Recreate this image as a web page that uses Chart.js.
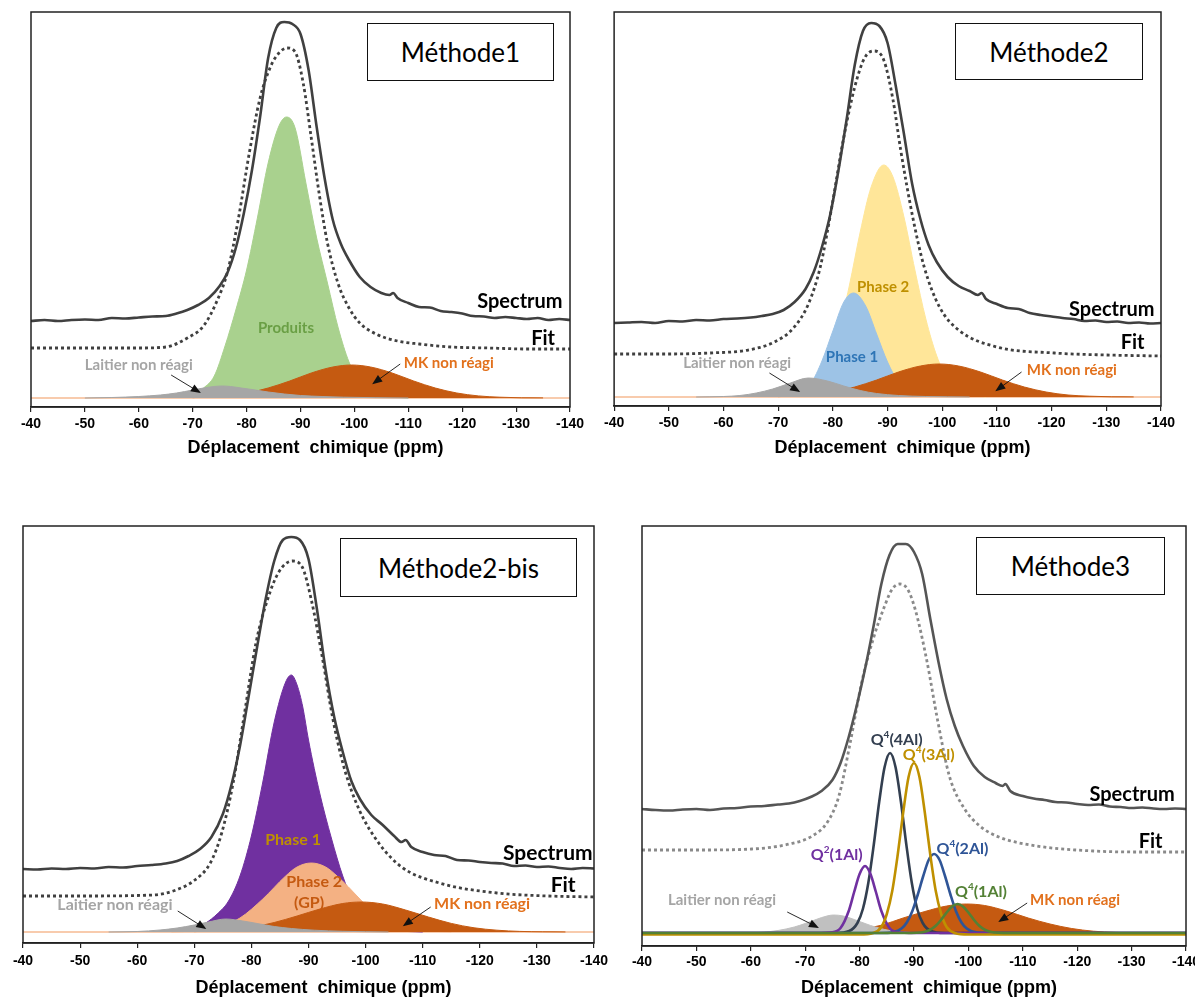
<!DOCTYPE html>
<html>
<head>
<meta charset="utf-8">
<script src="https://cdn.jsdelivr.net/npm/chart.js@4.4.1/dist/chart.umd.min.js"></script>
<style>
  html, body { margin: 0; padding: 0; background: #fff; overflow: hidden; width: 1195px; height: 999px; position: relative; }
  canvas { position: absolute; }
  .box { position: absolute; box-sizing: border-box; border: 1.5px solid #111; background: #fff;
         font: 26px Lato, "Open Sans", sans-serif; color: #000; display: flex; align-items: center; justify-content: center; }
</style>
</head>
<body>
<canvas id="c1" width="600" height="470" style="left:0;top:0"></canvas>
<canvas id="c2" width="595" height="470" style="left:600px;top:0"></canvas>
<canvas id="c3" width="615" height="499" style="left:0;top:500px"></canvas>
<canvas id="c4" width="620" height="489" style="left:600px;top:510px"></canvas>
<div class="box" style="left:367px;top:23px;width:187px;height:58px">Méthode1</div>
<div class="box" style="left:955px;top:23px;width:188px;height:57px">Méthode2</div>
<div class="box" style="left:340px;top:538px;width:237px;height:59px">Méthode2-bis</div>
<div class="box" style="left:976px;top:537px;width:189px;height:58px">Méthode3</div>
<script>
// intensities in arbitrary units, x in ppm
var xTicks = [-40, -50, -60, -70, -80, -90, -100, -110, -120, -130, -140];
var xTitle = "Déplacement  chimique (ppm)";

// ---------- Méthode1 ----------
var p1SpecPpm = [-40,-42.5,-45,-47.5,-50,-52.5,-55,-57.5,-60,-62.5,-65,-67,-69,-71,-73,-75,-76.5,-78,-79.5,-81,-82.5,-84,-85.5,-87,-88.5,-90,-91.5,-93,-94.5,-96,-97.5,-99,-101,-103,-105,-106.5,-107.2,-108,-110,-112,-114,-116,-118,-120,-122,-124,-126,-128,-130,-132,-134,-136,-138,-140];
var p1Spec    = [77,78,77,78,78.5,78,80,79.5,80.5,81.5,82,84.5,88,93,100,112,126,150,185,228,281,340,370,376,374,364,328,271,219,178,154,138,121,111,105,103,105,100,95,91,90.5,87,86,84.5,82,81.5,80,81,80,79,80,78,79,78];
var p1FitPpm  = [-40,-50,-60,-65,-69,-72,-74.5,-76.5,-78.5,-80.5,-82.5,-84.5,-86,-87.5,-89,-90.5,-92,-93.5,-95,-97,-99,-101,-104,-108,-112,-118,-125,-132,-140];
var p1Fit     = [50,50,50,51,60,72,97,127,180,245,300,332,345,350,346,315,260,203,155,114,90,75,64,57,54,51,50,49,49];
var p1ProdPpm = [-66,-70,-72,-74,-76,-78,-80,-82,-84,-86,-87.4,-89,-91,-93,-95,-97,-99,-101,-103,-106,-110];
var p1Prod    = [1,4,10,22,52,88,128,180,235,272,281,270,215,160,115,70,36,16,7,2,0];
var p1LaitPpm = [-50,-55,-60,-64,-67,-70,-72,-74,-75.5,-77,-79,-81,-84,-87,-90,-94,-98,-104,-110];
var p1Lait    = [0,0.5,1.5,3,5,8,10,11.5,12,11.5,10,8.5,6,4,2.5,1.5,0.8,0.3,0];
var p1MkPpm   = [-70,-75,-80,-84,-88,-92,-96,-99.5,-103,-107,-111,-115,-119,-123,-127,-131,-135];
var p1Mk      = [0.4,1.6,4.9,10,17,25,31,33,31,25,17,10,5,2.1,0.8,0.2,0.1];

// ---------- Méthode2 ----------
var p2SpecPpm = [-40,-42.5,-45,-47.5,-50,-52.5,-55,-57.5,-60,-62.5,-65,-67,-69,-71,-73,-75,-76.5,-78,-79.5,-81,-82.5,-84,-85.5,-87,-88.5,-90,-91.5,-93,-94.5,-96,-97.5,-99,-101,-103,-105,-106.5,-107.2,-108,-110,-112,-114,-116,-118,-120,-122,-124,-126,-128,-130,-132,-134,-136,-138,-140];
var p2Spec    = [74,74.5,75,74,76,75.5,77,76.5,78,78.5,79.5,81,83,87,95,108,125,150,182,226,277,332,366,374,371,354,311,263,213,178,152,135,120,111,106,102,104,98,93,89,88,84,82,80.5,79,78,76,76.5,75,75.5,74,74.5,73.5,74];
var p2FitPpm  = [-40,-50,-57.5,-64.5,-69.3,-72.8,-75.6,-77.7,-79.8,-81.9,-84,-85.8,-87.5,-89.3,-91,-92.4,-94.6,-96.7,-99.5,-103,-110,-120.5,-130,-140];
var p2Fit     = [43,43,44,47,55,69,94,130,190,257,310,339,346,337,297,247,180,130,90,67,50,44,42,41];
var p2Ph2Ppm  = [-72,-76,-79,-81,-83,-85,-87,-89.3,-91,-93,-95,-97,-99,-101,-104,-108];
var p2Ph2     = [1,9,33,65,111,165,210,232,220,180,127,78,41,18,4,0];
var p2Ph1Ppm  = [-70,-73,-76,-78,-80,-82,-83.8,-86,-88,-90,-92,-95,-98];
var p2Ph1     = [0.5,3,14,36,66,95,104,91,63,35,15,3,0.3];
var p2LaitPpm = [-55,-60,-63,-66,-69,-72,-75.5,-79,-82,-85,-88,-92,-97,-105];
var p2Lait    = [0,0.5,1.5,4,8,13.5,19,16,11,6.5,3.5,1.5,0.5,0];
var p2MkPpm   = [-70,-75,-80,-84,-88,-92,-96,-99.4,-103,-107,-111,-115,-119,-123,-127,-131,-135];
var p2Mk      = [0.4,1.6,4.9,10,17,25,31,33,31,25,17,10,5,2,0.8,0.2,0.1];

// ---------- Méthode2-bis ----------
var p3SpecPpm = [-40,-42.5,-45,-47.5,-50,-52.5,-55,-57.5,-60,-62.5,-65,-67,-69,-71,-73,-75,-76.5,-78,-79.5,-81,-82.5,-84,-85.5,-87,-88.5,-90,-91.5,-93,-94.5,-96,-97.5,-99,-101,-103,-105,-106.3,-107,-108,-110,-112,-114,-116,-118,-120,-122,-124,-126,-128,-130,-132,-134,-136,-138,-140];
var p3Spec    = [63,62.5,63.5,63,64,63.5,65,64.5,66,67,68.5,71,76,83,95,118,147,186,235,285,333,371,392,395,392,373,322,262,215,180,151,133,117,107,96,90,92,85,80,77,76,72,71.5,70,69,68.5,66,66.5,65,65.5,64,63,64,63.5];
var p3FitPpm  = [-40,-50,-62.7,-66.8,-70.1,-72.8,-74.8,-76.8,-78.8,-80.8,-82.8,-84.8,-87.2,-88.9,-90.5,-92.5,-94.2,-96.2,-98.9,-102.3,-106.3,-112.9,-123,-132,-140];
var p3Fit     = [36,36,37,42,52,69,99,149,219,289,332,360,371,365,332,272,215,165,122,89,65,49,39,36,35];
var p3Ph1Ppm  = [-66,-70,-72,-74,-76,-78,-80,-82,-84,-86,-87,-88,-89,-90,-92,-94,-96,-98,-100,-102,-105,-110];
var p3Ph1     = [1,4,9,18,31,56,96,150,210,250,257,247,225,192,138,94,56,28,12,5,1.5,0];
var p3GpPpm   = [-66,-70,-74,-78,-82,-86,-88,-90.5,-93,-95,-97,-99,-101,-103,-106,-110,-115];
var p3Gp      = [0.2,1,4.3,14,33,56,65,69,65,56,45,33,22,14,6,1.4,0.2];
var p3LaitPpm = [-55,-60,-64,-67,-70,-72.5,-75.5,-78.5,-81,-84,-87,-91,-96,-104];
var p3Lait    = [0,0.5,2,4,7,10,13,11,8.5,5.5,3.5,1.8,0.7,0];
var p3MkPpm   = [-70,-75,-80,-84,-88,-92,-96,-99.2,-103,-107,-111,-115,-119,-123,-127,-131,-135];
var p3Mk      = [0.4,1.6,4.7,9.5,16,23,28.5,30,28,22,15,8.6,4.2,1.8,0.6,0.2,0.05];

// ---------- Méthode3 ----------
var p4SpecPpm = [-40,-42.5,-45,-47.5,-50,-52.5,-55,-57.5,-60,-62.5,-65,-67,-69,-71,-73,-75,-76.5,-78,-79.5,-81,-82.5,-84,-85.5,-87,-88.5,-90,-91.5,-93,-94.5,-96,-97.5,-99,-101,-103,-105,-106.3,-106.8,-107.7,-110,-112,-114,-116,-118,-120,-122,-124,-126,-128,-130,-132,-134,-136,-138,-140];
var p4Spec    = [124,123,122.5,123.5,124,123,124.5,125,126.5,127,128.5,129.5,132,136,142,153,170,196,228,264,305,349,378,389,389,381,359,314,271,234,207,187,167,156,150,147,149,142,137,134.5,133,131,130.5,129,128,128.5,126.5,126,125,125.5,124.5,124,124.5,124];
var p4FitPpm  = [-40,-50,-60.2,-67.1,-71.3,-74.1,-76.2,-78.3,-80.4,-82.5,-84.6,-86,-87.4,-88.8,-90.2,-92.3,-94.4,-96.5,-99.3,-102.1,-105.6,-112.6,-123,-132,-140];
var p4Fit     = [83,83,84,89,97,111,137,191,251,294,327,344,349,344,324,274,211,157,124,107,96,87,82,81,81];
var p4Q2Ppm   = [-40,-72,-75,-76.5,-78,-79,-80,-81,-82,-83,-84,-85.5,-87,-90,-140];
var p4Q2      = [0,0,0.7,5,22,41,59,67,59,41,22,5,0.7,0,0];
var p4Q44Ppm  = [-40,-75.6,-78.1,-79.6,-80.6,-81.6,-82.6,-83.6,-84.6,-85.6,-86.6,-87.6,-88.6,-89.6,-90.6,-91.6,-93.1,-95.6,-140];
var p4Q44     = [0,0,2,10,24,50,88,131,166,180,166,131,88,50,24,10,2,0,0];
var p4Q43Ppm  = [-40,-80,-82.5,-84,-85,-86,-87,-88,-89,-90,-91,-92,-93,-94,-95,-96,-97.5,-100,-140];
var p4Q43     = [-1.5,-1.5,0,6,19,42,78,120,156,170,156,120,78,42,19,6,0,-1.5,-1.5];
var p4Q42Ppm  = [-40,-83.7,-86.2,-87.7,-88.7,-89.7,-90.7,-91.7,-92.7,-93.7,-94.7,-95.7,-96.7,-97.7,-98.7,-99.7,-101.2,-104,-140];
var p4Q42     = [0,0,0.9,4.4,10.7,22,38.5,57,73,79,73,57,38.5,22,10.7,4.4,0.9,0,0];
var p4Q41Ppm  = [-40,-88,-90.5,-92,-93,-94,-95,-96,-97,-98,-99,-100,-101,-102,-103,-104,-105.5,-108,-140];
var p4Q41     = [0,0,0.2,1.3,3.3,7.2,13.3,20.5,26.6,29,26.6,20.5,13.3,7.2,3.3,1.3,0.2,0,0];
var p4LaitPpm = [-58,-62,-65,-68,-70,-72,-74,-75.2,-77,-79,-81,-83,-86,-90];
var p4Lait    = [0,0.7,2.5,6,9.5,13.5,17,18,17,13.5,9.5,5.8,2,0.3];
var p4MkPpm   = [-70,-75,-80,-84,-88,-92,-96,-99.6,-103,-107,-111,-115,-119,-123,-127,-131,-135];
var p4Mk      = [0.2,1,3.5,7.8,15,21.5,27,29,27.5,22,15,9,4.5,1.8,0.6,0.2,0];

var baselinePpm = [-40, -140];
var baseline    = [0, 0];

function pts(xs, ys) {
  return xs.map(function (x, i) { return { x: x, y: ys[i] }; });
}

function line(xs, ys, color, width, order, dash) {
  return {
    data: pts(xs, ys), borderColor: color, borderWidth: width, borderDash: dash || [],
    pointRadius: 0, fill: false, order: order, cubicInterpolationMode: "monotone"
  };
}

function area(xs, ys, color, order) {
  return {
    data: pts(xs, ys), borderColor: color, backgroundColor: color, borderWidth: 1,
    pointRadius: 0, fill: "origin", order: order, cubicInterpolationMode: "monotone"
  };
}

// frame round the plot area
var framePlugin = {
  id: "frame",
  afterDatasetsDraw: function (chart) {
    var a = chart.chartArea, ctx = chart.ctx;
    ctx.save();
    ctx.strokeStyle = "#222";
    ctx.lineWidth = 1.5;
    ctx.strokeRect(a.left, a.top, a.right - a.left, a.bottom - a.top);
    ctx.restore();
  }
};

// text labels and little arrows, placed in data coordinates
var annotPlugin = {
  id: "annot",
  afterDatasetsDraw: function (chart, args, opts) {
    var ctx = chart.ctx, xs = chart.scales.x, ys = chart.scales.y;
    ctx.save();
    (opts.arrows || []).forEach(function (a) {
      var x1 = xs.getPixelForValue(a[0]), y1 = ys.getPixelForValue(a[1]);
      var x2 = xs.getPixelForValue(a[2]), y2 = ys.getPixelForValue(a[3]);
      var ang = Math.atan2(y2 - y1, x2 - x1);
      ctx.strokeStyle = "#111"; ctx.fillStyle = "#111"; ctx.lineWidth = 0.9;
      ctx.beginPath(); ctx.moveTo(x1, y1); ctx.lineTo(x2, y2); ctx.stroke();
      ctx.beginPath();
      ctx.moveTo(x2 + 2 * Math.cos(ang), y2 + 2 * Math.sin(ang));
      ctx.lineTo(x2 - 8 * Math.cos(ang) + 4 * Math.sin(ang), y2 - 8 * Math.sin(ang) - 4 * Math.cos(ang));
      ctx.lineTo(x2 - 8 * Math.cos(ang) - 4 * Math.sin(ang), y2 - 8 * Math.sin(ang) + 4 * Math.cos(ang));
      ctx.closePath(); ctx.fill();
    });
    (opts.labels || []).forEach(function (l) {
      var px = xs.getPixelForValue(l.x), py = ys.getPixelForValue(l.y);
      var f = "bold " + l.s + "px Lato, 'Open Sans', sans-serif";
      var fs = "bold " + Math.round(l.s * 0.6) + "px Lato, 'Open Sans', sans-serif";
      ctx.fillStyle = l.c;
      ctx.textBaseline = "middle";
      ctx.textAlign = "left";
      if (l.sup) {
        ctx.font = f; var w1 = ctx.measureText(l.t).width, w3 = ctx.measureText(l.rest).width;
        ctx.font = fs; var w2 = ctx.measureText(l.sup).width;
        var x0 = px - (w1 + w2 + w3) / 2;
        ctx.font = f; ctx.fillText(l.t, x0, py);
        ctx.font = fs; ctx.fillText(l.sup, x0 + w1, py - l.s * 0.35);
        ctx.font = f; ctx.fillText(l.rest, x0 + w1 + w2, py);
      } else {
        ctx.font = f;
        ctx.textAlign = "center";
        ctx.fillText(l.t, px, py);
      }
    });
    ctx.restore();
  }
};

function makeChart(id, datasets, layout, annot) {
  new Chart(document.getElementById(id).getContext("2d"), {
    type: "line",
    data: { datasets: datasets },
    options: {
      responsive: false, animation: false, devicePixelRatio: 1,
      layout: { padding: { left: layout.left, right: layout.right, top: layout.top, bottom: 0 } },
      plugins: { legend: { display: false }, tooltip: { enabled: false }, annot: annot },
      scales: {
        x: {
          type: "linear", reverse: true, min: -140, max: -40,
          afterBuildTicks: function (s) { s.ticks = xTicks.map(function (v) { return { value: v }; }); },
          afterFit: function (s) { s.height = layout.axisH; },
          grid: { display: true, drawOnChartArea: false, drawTicks: true, tickLength: 5, color: "#222", lineWidth: 1.2 },
          border: { display: true, color: "#222", width: 1.5 },
          ticks: { autoSkip: false, maxRotation: 0, padding: layout.tickPad, color: "#000",
                   font: { family: "'Liberation Sans', Arial, sans-serif", size: 14, weight: "bold" } },
          title: { display: true, text: "      " + xTitle, color: "#000",
                   font: { family: "'Liberation Sans', Arial, sans-serif", size: 18, weight: "bold" },
                   padding: { top: 0, bottom: layout.titlePad } }
        },
        y: { display: false, min: layout.ymin, max: layout.ymax }
      }
    },
    plugins: [framePlugin, annotPlugin]
  });
}

var specColor = "#404040";
var greyFill = "#a6a6a6";
var mkFill = "#c55a11";
var laitText = "#a5a5a5";
var mkText = "#e2711d";

makeChart("c1", [
  line(p1SpecPpm, p1Spec, specColor, 2.6, 0),
  line(p1FitPpm, p1Fit, specColor, 2.8, 1, [3, 3]),
  area(p1LaitPpm, p1Lait, greyFill, 2),
  area(p1MkPpm, p1Mk, mkFill, 3),
  area(p1ProdPpm, p1Prod, "#a9d18e", 4),
  line(baselinePpm, baseline, "#f8cbad", 2, 5)
], { left: 31, right: 30, top: 12, axisH: 63, tickPad: 4, titlePad: 11, ymin: -9, ymax: 386 }, {
  labels: [
    { t: "Spectrum", x: -130.7, y: 96, c: "#000", s: 20 },
    { t: "Fit", x: -135, y: 59, c: "#000", s: 20 },
    { t: "Produits", x: -87.3, y: 70, c: "#6a9f45", s: 15 },
    { t: "Laitier non réagi", x: -60, y: 33, c: laitText, s: 15 },
    { t: "MK non réagi", x: -117.5, y: 35, c: mkText, s: 15 }
  ],
  arrows: [[-66, 23, -71.2, 6], [-108.5, 34, -103.6, 15]]
});

makeChart("c2", [
  line(p2SpecPpm, p2Spec, specColor, 2.6, 0),
  line(p2FitPpm, p2Fit, specColor, 2.8, 1, [3, 3]),
  area(p2LaitPpm, p2Lait, greyFill, 2),
  area(p2MkPpm, p2Mk, mkFill, 3),
  area(p2Ph1Ppm, p2Ph1, "#9dc3e6", 4),
  area(p2Ph2Ppm, p2Ph2, "#ffe699", 5),
  line(baselinePpm, baseline, "#f8cbad", 2, 6)
], { left: 14, right: 34, top: 12, axisH: 64, tickPad: 4, titlePad: 11, ymin: -9, ymax: 385 }, {
  labels: [
    { t: "Spectrum", x: -131, y: 87, c: "#000", s: 20 },
    { t: "Fit", x: -134.8, y: 54, c: "#000", s: 20 },
    { t: "Phase 2", x: -89.2, y: 110, c: "#bf9000", s: 15 },
    { t: "Phase 1", x: -83.5, y: 40, c: "#2e75b6", s: 15 },
    { t: "Laitier non réagi", x: -62.5, y: 34, c: laitText, s: 15 },
    { t: "MK non réagi", x: -123.7, y: 27, c: mkText, s: 15 }
  ],
  arrows: [[-68.4, 24, -73.7, 6], [-114.5, 25, -110, 7]]
});

makeChart("c3", [
  line(p3SpecPpm, p3Spec, specColor, 2.6, 0),
  line(p3FitPpm, p3Fit, specColor, 2.8, 1, [3, 3]),
  area(p3LaitPpm, p3Lait, greyFill, 2),
  area(p3MkPpm, p3Mk, mkFill, 3),
  area(p3GpPpm, p3Gp, "#f4b183", 4),
  area(p3Ph1Ppm, p3Ph1, "#7030a0", 5),
  line(baselinePpm, baseline, "#f8cbad", 2, 6)
], { left: 23, right: 21, top: 26, axisH: 56, tickPad: 5, titlePad: 0, ymin: -11, ymax: 406 }, {
  labels: [
    { t: "Spectrum", x: -131.9, y: 79, c: "#000", s: 21 },
    { t: "Fit", x: -134.6, y: 47, c: "#000", s: 21 },
    { t: "Phase 1", x: -87.3, y: 92, c: "#bf9000", s: 16 },
    { t: "Phase 2", x: -91, y: 50, c: "#c55a11", s: 16 },
    { t: "(GP)", x: -90.1, y: 29, c: "#c55a11", s: 16 },
    { t: "Laitier non réagi", x: -56.1, y: 27, c: laitText, s: 16 },
    { t: "MK non réagi", x: -120.4, y: 28, c: mkText, s: 16 }
  ],
  arrows: [[-67.1, 21, -71.8, 4], [-111.4, 25, -106.8, 7]]
});

makeChart("c4", [
  line(p4SpecPpm, p4Spec, "#555555", 2.6, 0),
  line(p4FitPpm, p4Fit, "#8a8a8a", 2.8, 1, [3, 3]),
  line(p4Q41Ppm, p4Q41, "#538135", 2.6, 2),
  line(p4Q43Ppm, p4Q43, "#bf9000", 2.6, 3),
  line(p4Q2Ppm, p4Q2, "#7030a0", 2.6, 4),
  line(p4Q42Ppm, p4Q42, "#2f5597", 2.6, 5),
  line(p4Q44Ppm, p4Q44, "#333f50", 2.6, 6),
  area(p4LaitPpm, p4Lait, "#c0c0c0", 7),
  area(p4MkPpm, p4Mk, mkFill, 8)
], { left: 42, right: 34, top: 16, axisH: 53, tickPad: 3, titlePad: 0, ymin: -13, ymax: 407 }, {
  labels: [
    { t: "Spectrum", x: -130.1, y: 138, c: "#000", s: 20 },
    { t: "Fit", x: -133.5, y: 91, c: "#000", s: 20 },
    { t: "Q", sup: "4", rest: "(4Al)", x: -86.8, y: 193, c: "#333f50", s: 16 },
    { t: "Q", sup: "4", rest: "(3Al)", x: -92.7, y: 178, c: "#bf9000", s: 16 },
    { t: "Q", sup: "2", rest: "(1Al)", x: -75.8, y: 78, c: "#7030a0", s: 16 },
    { t: "Q", sup: "4", rest: "(2Al)", x: -98.9, y: 84, c: "#2f5597", s: 16 },
    { t: "Q", sup: "4", rest: "(1Al)", x: -102.3, y: 41, c: "#538135", s: 16 },
    { t: "Laitier non réagi", x: -54.7, y: 33, c: laitText, s: 15 },
    { t: "MK non réagi", x: -119.6, y: 33, c: mkText, s: 15 }
  ],
  arrows: [[-66.7, 21, -72.2, 6], [-110.8, 30, -105.8, 12]]
});
</script>
</body>
</html>
